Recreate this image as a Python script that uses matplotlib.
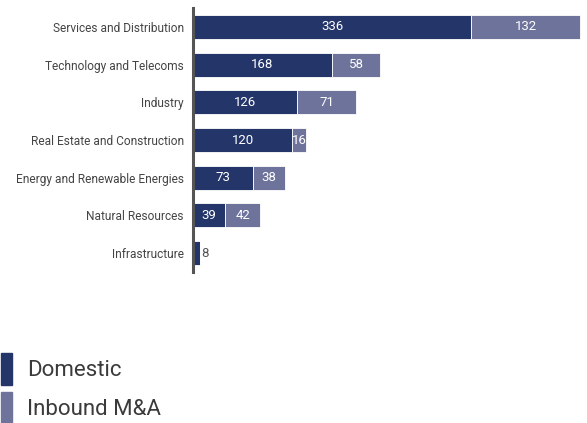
import matplotlib.pyplot as plt
from matplotlib.patches import Patch

plt.rcParams['font.family'] = ['Roboto', 'DejaVu Sans']

sectors = ['Services and Distribution', 'Technology and Telecoms', 'Industry',
           'Real Estate and Construction', 'Energy and Renewable Energies',
           'Natural Resources', 'Infrastructure']
domestic = [336, 168, 126, 120, 73, 39, 8]
inbound = [132, 58, 71, 16, 38, 42, 0]

c_dom = '#24356a'
c_inb = '#6e739c'

fig = plt.figure(figsize=(5.87, 4.23), dpi=100)
ax = fig.add_axes([193 / 587, 1 - 272 / 423, 389 / 587, 264 / 423])

y = list(range(len(sectors)))
ax.barh(y, domestic, height=0.64, color=c_dom, edgecolor='white', linewidth=0.6)
ax.barh(y, inbound, left=domestic, height=0.64, color=c_inb, edgecolor='white', linewidth=0.6)

for i in y:
    d, b = domestic[i], inbound[i]
    if d >= 20:
        ax.text(d / 2, i, str(d), ha='center', va='center', color='white', fontsize=9.5)
    else:
        ax.text(d + 2, i, str(d), ha='left', va='center', color='#555555', fontsize=9.5)
    if b > 0:
        ax.text(d + b / 2, i, str(b), ha='center', va='center', color='white', fontsize=9.5)

ax.set_xlim(0, 470)
ax.set_ylim(6.5, -0.5)
ax.set_yticks(y)
ax.set_yticklabels(sectors, fontsize=8.6, color='#444444')
ax.set_xticks([])
ax.tick_params(axis='y', length=0, pad=6.5)
for s in ['top', 'right', 'bottom']:
    ax.spines[s].set_visible(False)
ax.spines['left'].set_color('#555555')
ax.spines['left'].set_linewidth(2.2)

handles = [Patch(color=c_dom, label='Domestic'), Patch(color=c_inb, label='Inbound M&A')]
fig.legend(handles=handles, loc='upper left', bbox_to_anchor=(-0.014, 1 - 344 / 423),
           frameon=False, fontsize=16, handlelength=0.5, handleheight=1.85,
           handletextpad=0.7, labelspacing=0.3, labelcolor='#3a3a3a', borderaxespad=0)

fig.savefig('out.png', dpi=100)
